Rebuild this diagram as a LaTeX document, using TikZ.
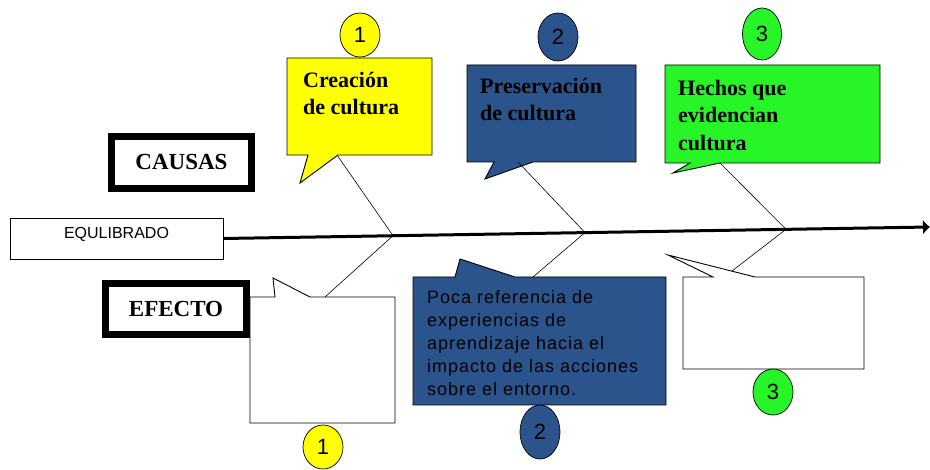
\documentclass[tikz,border=0pt]{standalone}
\usepackage{fontspec}
\setmainfont{Liberation Serif}
\newfontfamily\arialfont{Liberation Sans}
\newfontfamily\arialwide{Liberation Sans}[LetterSpace=5.5]
\usepackage{tikz}
\usetikzlibrary{arrows.meta,shapes.geometric}
\definecolor{ish-yellow}{RGB}{255,255,0}
\definecolor{ish-blue}{RGB}{44,84,140}
\definecolor{ish-green}{RGB}{40,245,40}

\begin{document}
\begin{tikzpicture}[x=1pt,y=-1pt,
    callout/.style={draw=black, line width=0.9pt, line join=miter},
    bone/.style={draw=black, line width=0.6pt},
    headtext/.style={font=\bfseries\fontsize{22}{27.5}\selectfont, align=left, anchor=north west, inner sep=0pt},
    bodytext/.style={font=\arialwide\fontsize{18}{23}\selectfont, align=left, anchor=north west, inner sep=0pt},
    numdot/.style={ellipse, draw=black, line width=0.7pt, inner sep=0pt, font=\arialfont\fontsize{22}{22}\selectfont},
    tagbox/.style={draw=black, line width=7pt, inner sep=0pt, font=\bfseries\fontsize{23}{23}\selectfont}]
    \useasboundingbox (0,0) rectangle (930,470);
    % labels on the left
    \node[tagbox, minimum width=140pt, minimum height=52pt] (causas) at (181.5,162.5) {CAUSAS};
    \node[tagbox, minimum width=141pt, minimum height=51pt] (efecto) at (176,309) {EFECTO};
    \node[draw=black, line width=0.9pt, minimum width=213pt, minimum height=41pt] (equil) at (116.5,238.5) {};
    \node[font=\arialfont\fontsize{16}{16}\selectfont, inner sep=0pt] (equiltext) at ([yshift=4.5pt]equil.center) {EQULIBRADO};
    % spine
    \coordinate (spineend) at (930,227);
    \coordinate (j1) at (393,235.7);
    \coordinate (j2) at (585,232.6);
    \coordinate (j3) at (786,229.3);
    \draw[line width=3pt, -{Latex[length=7pt,width=15pt]}] (equil.east) -- (spineend);
    % causes
    \draw[callout, fill=ish-yellow] (287,58) -- (432,58) -- (432,155) -- (338,155) -- (300,183) -- (308,155) -- (287,155) -- cycle;
    \draw[callout, fill=ish-blue] (467,65) -- (636,65) -- (636,162) -- (533,162) -- (485,179) -- (494,162) -- (467,162) -- cycle;
    \draw[callout, fill=ish-green] (665,65) -- (880,65) -- (880,163) -- (720,163) -- (673,173) -- (690,163) -- (665,163) -- cycle;
    \node[headtext] (cause1) at (303,72) {Creación\\de cultura};
    \node[headtext] (cause2) at (480,78) {Preservación\\de cultura};
    \node[headtext] (cause3) at (678,80) {Hechos que\\evidencian\\cultura};
    \coordinate (c1) at (337,155);
    \coordinate (c2) at (518,162);
    \coordinate (c3) at (720,163);
    % effects
    \draw[callout, fill=white] (250,297) -- (275,297) -- (273,278) -- (310,297) -- (395,297) -- (395,423) -- (250,423) -- cycle;
    \draw[callout, fill=ish-blue] (413,277) -- (455,277) -- (460,259) -- (515,277) -- (666,277) -- (666,405) -- (413,405) -- cycle;
    \draw[callout, fill=white] (683,277) -- (713,277) -- (668,255) -- (755,277) -- (864,277) -- (864,369) -- (683,369) -- cycle;
    \node[bodytext] (effect2) at (427,290) {Poca referencia de\\experiencias de\\aprendizaje hacia el\\impacto de las acciones\\sobre el entorno.};
    \coordinate (e1) at (325,297);
    \coordinate (e2) at (533,277);
    \coordinate (e3) at (732,271);
    % bones
    \draw[bone] (c1) -- (j1) -- (e1);
    \draw[bone] (c2) -- (j2) -- (e2);
    \draw[bone] (c3) -- (j3) -- (e3);
    % numbers
    \node[numdot, fill=ish-yellow, minimum width=40pt, minimum height=44pt] (top1) at (360,35) {1};
    \node[numdot, fill=ish-blue, minimum width=40pt, minimum height=48pt] (top2) at (558,37) {2};
    \node[numdot, fill=ish-green, minimum width=39pt, minimum height=52pt] (top3) at (762,34) {3};
    \node[numdot, fill=ish-yellow, minimum width=40pt, minimum height=44pt] (bot1) at (323,447) {1};
    \node[numdot, fill=ish-blue, minimum width=40pt, minimum height=54pt] (bot2) at (540,432) {2};
    \node[numdot, fill=ish-green, minimum width=40pt, minimum height=46pt] (bot3) at (773,392) {3};
\end{tikzpicture}
\end{document}
